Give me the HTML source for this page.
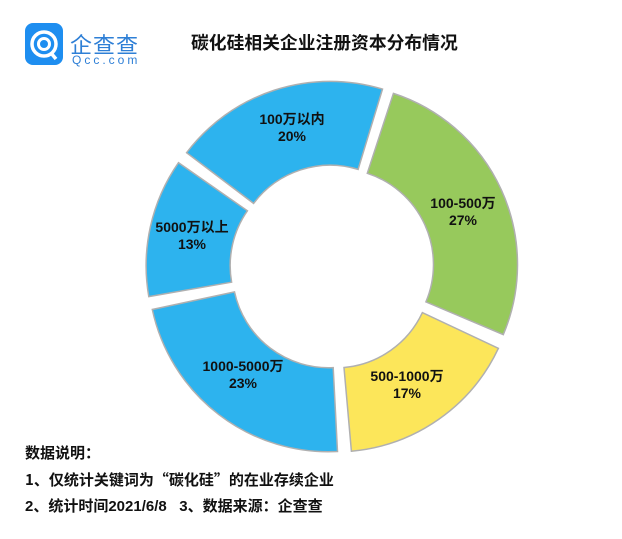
<!DOCTYPE html>
<html><head><meta charset="utf-8"><style>
body{margin:0;background:#fff;width:622px;height:539px;overflow:hidden;font-family:"Liberation Sans","Noto Sans CJK SC",sans-serif;}
.t{position:absolute;white-space:nowrap;color:#111;}
.l{font-size:14px;font-weight:bold;transform:translateX(-50%)}
</style></head><body>
<div style="position:absolute;left:25px;top:23px;width:38px;height:42px;background:#1e8ef0;border-radius:8px;"></div>
<svg style="position:absolute;left:25px;top:23px" width="38" height="42"><circle cx="19" cy="21" r="12" fill="none" stroke="#fff" stroke-width="3.5"/><circle cx="19" cy="21" r="5.5" fill="none" stroke="#fff" stroke-width="3"/><line x1="26" y1="30" x2="31" y2="36" stroke="#fff" stroke-width="3.5"/></svg>
<div class="t" style="left:70px;top:28px;font-size:22px;color:#2e7fd6;letter-spacing:1px">企查查</div>
<div class="t" style="left:72px;top:53px;font-size:12px;color:#2e7fd6;letter-spacing:3px">Qcc.com</div>
<div class="t" style="left:191px;top:29px;font-size:17.8px;font-weight:bold">碳化硅相关企业注册资本分布情况</div>
<svg id="c" style="position:absolute;left:0;top:0" width="622" height="539"></svg>
<div class="t" style="left:25px;top:442px;font-size:15px;font-weight:bold">数据说明：</div>
<div class="t" style="left:25px;top:469px;font-size:15px;font-weight:bold;font-family:'Noto Sans CJK SC',sans-serif">1、仅统计关键词为“碳化硅”的在业存续企业</div>
<div class="t" style="left:25px;top:495px;font-size:15px;font-weight:bold">2、统计时间2021/6/8&nbsp;&nbsp;&nbsp;3、数据来源：企查查</div>
<script>
var cx=332,cy=267,R=180,r=96,off=6;
var segs=[[17,114,'#97c95c'],[114,176,'#fce65a'],[176,259,'#2db3ee'],[259,306,'#2db3ee'],[306,378,'#2db3ee']];
var s='';
function p(a,rad,ox,oy){a=(a-90)*Math.PI/180;return (cx+ox+rad*Math.cos(a)).toFixed(1)+','+(cy+oy+rad*Math.sin(a)).toFixed(1);}
segs.forEach(function(g){var m=((g[0]+g[1])/2-90)*Math.PI/180,ox=off*Math.cos(m),oy=off*Math.sin(m);var a0=g[0]+1.1,a1=g[1]-1.1;var L=(a1-a0)>180?1:0;
s+='<path d="M'+p(a0,R,ox,oy)+' A'+R+','+R+' 0 '+L+' 1 '+p(a1,R,ox,oy)+' L'+p(a1,r,ox,oy)+' A'+r+','+r+' 0 '+L+' 0 '+p(a0,r,ox,oy)+' Z" fill="'+g[2]+'" stroke="#b0b0b0" stroke-width="1.5"/>';});
document.getElementById('c').innerHTML=s;
</script>
<div class="t l" style="left:292px;top:109px">100万以内</div>
<div class="t l" style="left:292px;top:128px">20%</div>
<div class="t l" style="left:463px;top:193px">100-500万</div>
<div class="t l" style="left:463px;top:212px">27%</div>
<div class="t l" style="left:192px;top:217px">5000万以上</div>
<div class="t l" style="left:192px;top:236px">13%</div>
<div class="t l" style="left:243px;top:356px">1000-5000万</div>
<div class="t l" style="left:243px;top:375px">23%</div>
<div class="t l" style="left:407px;top:366px">500-1000万</div>
<div class="t l" style="left:407px;top:385px">17%</div>
</body></html>
